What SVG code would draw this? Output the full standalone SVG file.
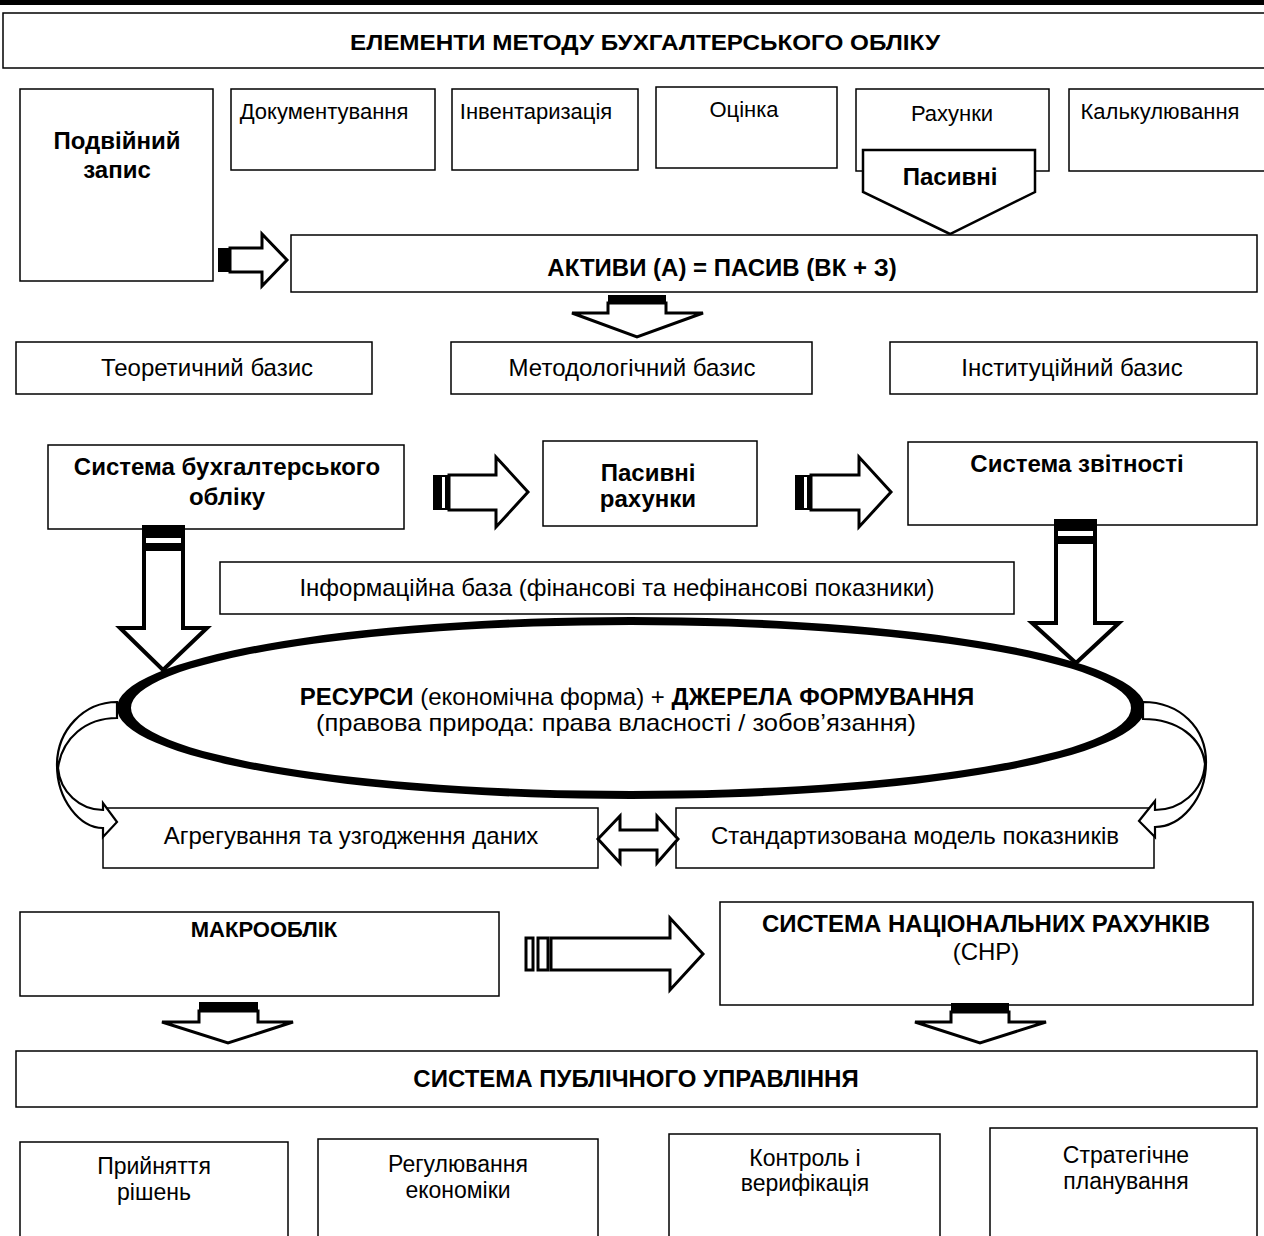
<svg xmlns="http://www.w3.org/2000/svg" width="1264" height="1236" viewBox="0 0 1264 1236">
<style>
.box{fill:#fff;stroke:#000;stroke-width:1.5}
.t{font-family:"Liberation Sans",Arial,sans-serif;font-size:24px;text-anchor:middle;fill:#000}
.s{font-size:22px}
.m{font-size:23px}
.b{font-weight:bold}
.arr{fill:#fff;stroke:#000;stroke-width:3;stroke-linejoin:miter}
.arr4{fill:#fff;stroke:#000;stroke-width:4;stroke-linejoin:miter}
.crv{fill:#fff;stroke:#000;stroke-width:2.2;stroke-linejoin:miter}
</style>
<rect x="0" y="0" width="1264" height="5" fill="#000"/>

<g id="title"><rect class="box" x="3" y="13" width="1275" height="55"/><text class="t s b" x="645" y="50" textLength="590" lengthAdjust="spacingAndGlyphs">ЕЛЕМЕНТИ МЕТОДУ БУХГАЛТЕРСЬКОГО ОБЛІКУ</text></g>

<g id="podviinyi"><rect class="box" x="20" y="89" width="193" height="192"/><text class="t b" x="117" y="149">Подвійний</text><text class="t b" x="117" y="178">запис</text></g>
<g id="doc"><rect class="box" x="231" y="89" width="204" height="81"/><text class="t s" x="324" y="119">Документування</text></g>
<g id="inv"><rect class="box" x="452" y="89" width="186" height="81"/><text class="t s" x="536" y="119">Інвентаризація</text></g>
<g id="ocin"><rect class="box" x="656" y="87" width="181" height="81"/><text class="t s" x="744" y="117">Оцінка</text></g>
<g id="rah"><rect class="box" x="856" y="89" width="193" height="82"/><text class="t s" x="952" y="121">Рахунки</text></g>
<g id="kalk"><rect class="box" x="1069" y="89" width="205" height="82"/><text class="t s" x="1160" y="119">Калькулювання</text></g>
<g id="pasyvni"><path d="M863,150 L1035,150 L1035,192 L950,234 L863,192 Z" fill="#fff" stroke="#000" stroke-width="2.5"/><text class="t b" x="950" y="185">Пасивні</text></g>

<g id="aktyvy"><rect class="box" x="291" y="235" width="966" height="57"/><text class="t b" x="722" y="276" font-size="25">АКТИВИ (А) = ПАСИВ (ВК + З)</text></g>

<g id="teor"><rect class="box" x="16" y="342" width="356" height="52"/><text class="t" x="207" y="376">Теоретичний базис</text></g>
<g id="metod"><rect class="box" x="451" y="342" width="361" height="52"/><text class="t" x="632" y="376">Методологічний базис</text></g>
<g id="inst"><rect class="box" x="890" y="342" width="367" height="52"/><text class="t" x="1072" y="376">Інституційний базис</text></g>

<g id="sbo"><rect class="box" x="48" y="445" width="356" height="84"/><text class="t b" x="227" y="475">Система бухгалтерського</text><text class="t b" x="227" y="505">обліку</text></g>
<g id="pasrah"><rect class="box" x="543" y="441" width="214" height="85"/><text class="t b" x="648" y="481">Пасивні</text><text class="t b" x="648" y="507">рахунки</text></g>
<g id="zvit"><rect class="box" x="908" y="442" width="349" height="83"/><text class="t b" x="1077" y="472">Система звітності</text></g>

<g id="infobaza"><rect class="box" x="220" y="562" width="794" height="52"/><text class="t" x="617" y="596">Інформаційна база (фінансові та нефінансові показники)</text></g>

<g id="agreg"><rect class="box" x="103" y="808" width="495" height="60"/><text class="t" x="351" y="844">Агрегування та узгодження даних</text></g>
<g id="stand"><rect class="box" x="676" y="808" width="478" height="60"/><text class="t" x="915" y="844">Стандартизована модель показників</text></g>

<g id="resursy"><path d="M117,708 A514,91 0 1,0 1145,708 A514,91 0 1,0 117,708 Z M131,708 A500,83 0 1,0 1131,708 A500,83 0 1,0 131,708 Z" fill="#000" fill-rule="evenodd"/>
<text class="t" x="637" y="705"><tspan font-weight="bold">РЕСУРСИ</tspan> (економічна форма) + <tspan font-weight="bold">ДЖЕРЕЛА ФОРМУВАННЯ</tspan></text>
<text class="t" x="616" y="731" font-size="25" textLength="600" lengthAdjust="spacingAndGlyphs">(правова природа: права власності / зобов’язання)</text></g>

<g id="makro"><rect class="box" x="20" y="912" width="479" height="84"/><text class="t s b" x="264" y="937">МАКРООБЛІК</text></g>
<g id="snr"><rect class="box" x="720" y="902" width="533" height="103"/><text class="t b" x="986" y="932">СИСТЕМА НАЦІОНАЛЬНИХ РАХУНКІВ</text><text class="t" x="986" y="960">(СНР)</text></g>

<g id="publ"><rect class="box" x="16" y="1051" width="1241" height="56"/><text class="t b" x="636" y="1087">СИСТЕМА ПУБЛІЧНОГО УПРАВЛІННЯ</text></g>

<g id="rishen"><rect class="box" x="20" y="1142" width="268" height="110"/><text class="t m" x="154" y="1174">Прийняття</text><text class="t m" x="154" y="1200">рішень</text></g>
<g id="regul"><rect class="box" x="318" y="1139" width="280" height="110"/><text class="t m" x="458" y="1172">Регулювання</text><text class="t m" x="458" y="1198">економіки</text></g>
<g id="kontrol"><rect class="box" x="669" y="1134" width="271" height="110"/><text class="t m" x="805" y="1166">Контроль і</text><text class="t m" x="805" y="1191">верифікація</text></g>
<g id="strat"><rect class="box" x="990" y="1128" width="267" height="115"/><text class="t m" x="1126" y="1163">Стратегічне</text><text class="t m" x="1126" y="1189">планування</text></g>

<g id="connectors">
<rect x="218" y="248" width="12" height="24" fill="#000"/>
<path class="arr" d="M230,248 L262,248 L262,234 L287,260 L262,286 L262,272 L230,272 Z"/>
<rect x="608" y="295" width="58" height="8" fill="#000"/>
<path class="arr" d="M608,303 L666,303 L666,313 L703,313 L637,337 L572,313 L608,313 Z"/>
<rect x="433" y="475" width="16" height="35" fill="#000"/>
<rect x="442" y="477" width="3" height="31" fill="#fff"/>
<path class="arr" d="M449,475 L496,475 L496,457 L528,492 L496,527 L496,510 L449,510 Z"/>
<rect x="795" y="475" width="16" height="35" fill="#000"/>
<rect x="804" y="477" width="3" height="31" fill="#fff"/>
<path class="arr" d="M811,475 L859,475 L859,457 L891,492 L859,527 L859,510 L811,510 Z"/>
<rect x="142" y="525" width="43" height="24" fill="#000"/>
<rect x="146" y="538" width="35" height="5" fill="#fff"/>
<path class="arr4" d="M144,549 L183,549 L183,628 L207,628 L163,670 L120,628 L144,628 Z"/>
<rect x="1054" y="519" width="43" height="23" fill="#000"/>
<rect x="1058" y="531" width="35" height="5" fill="#fff"/>
<path class="arr4" d="M1056,542 L1095,542 L1095,623 L1119,623 L1076,663 L1032,623 L1056,623 Z"/>
<path class="crv" d="M117,702 C84,702 57,730 57,765 C57,800 80,828 103,828 L103,837 L117,822 L103,803 L103,810 C80,810 60,792 58,768 C62,738 86,718 117,718 Z"/>
<path class="crv" d="M1143,702 C1180,702 1206,728 1206,762 C1206,800 1180,827 1155,827 L1155,837 L1139,821 L1155,801 L1155,810 C1180,810 1203,792 1205,764 C1202,738 1178,719 1143,719 Z"/>
<path class="arr" d="M598,839 L620,816 L620,830 L657,830 L657,816 L678,839 L657,863 L657,850 L620,850 L620,863 Z"/>
<rect x="526" y="938" width="7" height="32" fill="#fff" stroke="#000" stroke-width="3"/>
<rect x="538" y="938" width="10" height="32" fill="#fff" stroke="#000" stroke-width="3"/>
<path class="arr" d="M551,938 L670,938 L670,918 L703,954 L670,990 L670,970 L551,970 Z"/>
<rect x="199" y="1002" width="59" height="9" fill="#000"/>
<path class="arr" d="M199,1011 L258,1011 L258,1022 L293,1022 L228,1043 L162,1022 L199,1022 Z"/>
<rect x="951" y="1003" width="58" height="9" fill="#000"/>
<path class="arr" d="M951,1012 L1009,1012 L1009,1022 L1046,1022 L980,1043 L915,1022 L951,1022 Z"/>
</g>
</svg>
